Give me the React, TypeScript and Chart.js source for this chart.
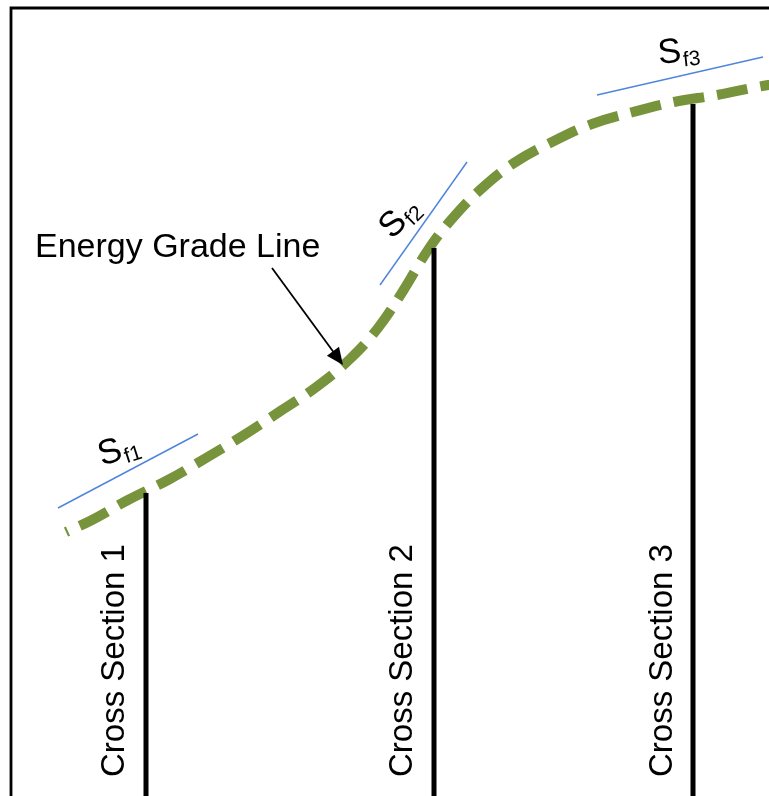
import React, { useEffect, useRef } from 'react';
import { Chart, registerables } from 'chart.js';

Chart.register(...registerables);

// Energy grade line profile (station, elevation)
const eglStation = [66, 92, 128, 168, 206, 244, 279, 315, 350, 378, 403, 428, 451, 480, 514, 552, 592, 633, 674, 717, 757, 775];
const eglElevation = [264, 276, 296, 316, 338, 361, 384, 408, 437, 468, 505, 546, 576, 606, 633, 654, 672, 684, 694, 701, 709, 712];

// Cross sections
const sectionNames = ['Cross Section 1', 'Cross Section 2', 'Cross Section 3'];
const sectionStation = [146, 434, 693];
const sectionTopElev = [303, 548, 692];
const sectionBaseElev = -20;
const sectionLabelStation = [124, 412, 672];
const sectionLabelElev = 19;

// Friction slopes Sf1..Sf3
const slopeSubscripts = ['f1', 'f2', 'f3'];
const slopeStartStation = [58, 380, 597];
const slopeStartElev = [288, 511, 701];
const slopeEndStation = [198, 467, 763];
const slopeEndElev = [362, 634, 739];
const slopeLabelStation = [102, 392, 659];
const slopeLabelElev = [330, 556, 732];
const slopeLabelAngle = [-18, -45, -6];

// Annotation "Energy Grade Line"
const eglLabel = 'Energy Grade Line';
const eglLabelStation = 35;
const eglLabelElev = 539;
const arrowFrom = { x: 272, y: 528 };
const arrowTo = { x: 343, y: 431 };

// Frame
const frameStation = [11, 11, 800];
const frameElev = [-20, 788, 788];

const FONT = '"Liberation Sans", Arial, Helvetica, sans-serif';

const textPlugin = {
  id: 'diagramText',
  afterDatasetsDraw(chart: any) {
    const { ctx, scales } = chart;
    const px = (v: number) => scales.x.getPixelForValue(v);
    const py = (v: number) => scales.y.getPixelForValue(v);
    ctx.save();
    ctx.fillStyle = '#000';
    ctx.textBaseline = 'alphabetic';
    ctx.textAlign = 'left';

    // Energy grade line label
    ctx.font = `34px ${FONT}`;
    ctx.fillText(eglLabel, px(eglLabelStation), py(eglLabelElev));

    // Arrow head
    const x1 = px(arrowFrom.x), y1 = py(arrowFrom.y);
    const x2 = px(arrowTo.x), y2 = py(arrowTo.y);
    const ang = Math.atan2(y2 - y1, x2 - x1);
    const L = 17, W = 7.5;
    ctx.beginPath();
    ctx.moveTo(x2, y2);
    ctx.lineTo(x2 - L * Math.cos(ang) + W * Math.sin(ang), y2 - L * Math.sin(ang) - W * Math.cos(ang));
    ctx.lineTo(x2 - L * Math.cos(ang) - W * Math.sin(ang), y2 - L * Math.sin(ang) + W * Math.cos(ang));
    ctx.closePath();
    ctx.fill();

    // Cross section labels
    ctx.font = `33px ${FONT}`;
    sectionNames.forEach((name, i) => {
      ctx.save();
      ctx.translate(px(sectionLabelStation[i]), py(sectionLabelElev));
      ctx.rotate(-Math.PI / 2);
      ctx.fillText(name, 0, 0);
      ctx.restore();
    });

    // Sf labels
    slopeSubscripts.forEach((sub, i) => {
      ctx.save();
      ctx.translate(px(slopeLabelStation[i]), py(slopeLabelElev[i]));
      ctx.rotate((slopeLabelAngle[i] * Math.PI) / 180);
      ctx.font = `35px ${FONT}`;
      ctx.fillText('S', 0, 0);
      const w = ctx.measureText('S').width;
      ctx.font = `21px ${FONT}`;
      ctx.fillText(sub, w + 1, 5);
      ctx.restore();
    });
    ctx.restore();
  },
};

export default function App() {
  const ref = useRef<HTMLCanvasElement | null>(null);
  useEffect(() => {
    if (!ref.current) return;
    const toPts = (xs: number[], ys: number[]) => xs.map((x, i) => ({ x, y: ys[i] }));
    const datasets: any[] = [];
    datasets.push({
      label: 'frame',
      data: toPts(frameStation, frameElev),
      borderColor: '#000',
      borderWidth: 2.8,
      pointRadius: 0,
      showLine: true,
      clip: false,
      tension: 0,
    });
    slopeSubscripts.forEach((s, i) => {
      datasets.push({
        label: 'S' + s,
        data: [
          { x: slopeStartStation[i], y: slopeStartElev[i] },
          { x: slopeEndStation[i], y: slopeEndElev[i] },
        ],
        borderColor: '#4f86dc',
        borderWidth: 1.5,
        pointRadius: 0,
        showLine: true,
        clip: false,
      });
    });
    sectionNames.forEach((n, i) => {
      datasets.push({
        label: n,
        data: [
          { x: sectionStation[i], y: sectionBaseElev },
          { x: sectionStation[i], y: sectionTopElev[i] },
        ],
        borderColor: '#000',
        borderWidth: 5,
        pointRadius: 0,
        showLine: true,
        clip: false,
      });
    });
    datasets.push({
      label: 'Energy Grade Line',
      data: toPts(eglStation, eglElevation),
      borderColor: '#77933c',
      borderWidth: 10,
      borderDash: [31, 13],
      borderDashOffset: 29,
      borderCapStyle: 'butt',
      tension: 0.4,
      pointRadius: 0,
      showLine: true,
      clip: false,
    });
    datasets.push({
      label: 'arrow',
      data: [arrowFrom, arrowTo],
      borderColor: '#000',
      borderWidth: 1.8,
      pointRadius: 0,
      showLine: true,
      clip: false,
    });

    const chart = new Chart(ref.current, {
      type: 'scatter',
      data: { datasets },
      options: {
        animation: false,
        responsive: true,
        maintainAspectRatio: false,
        layout: { padding: 0 },
        events: [],
        scales: {
          x: { type: 'linear', min: 0, max: 769, display: false },
          y: { type: 'linear', min: 0, max: 796, display: false },
        },
        plugins: { legend: { display: false }, tooltip: { enabled: false } },
      },
      plugins: [textPlugin],
    } as any);
    return () => chart.destroy();
  }, []);

  return (
    <div style={{ position: 'fixed', left: 0, top: 0, width: 769, height: 796, background: '#fff' }}>
      <canvas ref={ref} />
    </div>
  );
}
